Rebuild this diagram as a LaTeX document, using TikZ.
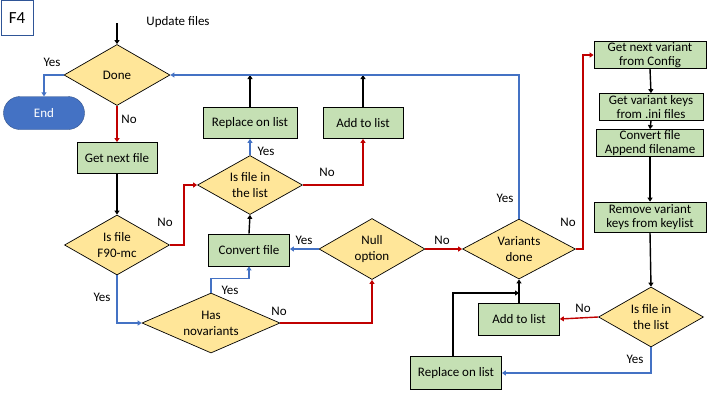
\documentclass[tikz,border=0pt]{standalone}
\usepackage{fontspec}
\setmainfont{Carlito}
\usepackage{xcolor}
\usetikzlibrary{shapes.geometric, shapes.misc, arrows.meta}

\definecolor{decfill}{HTML}{FFE699}
\definecolor{boxfill}{HTML}{C5E0B4}
\definecolor{lineblue}{HTML}{4472C4}
\definecolor{linered}{HTML}{C00000}
\definecolor{framenavy}{HTML}{2F5597}

\begin{document}
\begin{tikzpicture}[x=1pt, y=-1pt,
        txt/.style={font=\fontsize{13}{16}\selectfont, align=center},
        decision/.style={txt, diamond, draw=black, line width=0.7pt, fill=decfill, inner sep=0pt, aspect=2},
        process/.style={txt, rectangle, draw=black, line width=0.7pt, fill=boxfill, inner sep=0pt},
        tightbox/.style={process, font=\fontsize{13}{13.5}\selectfont},
        flow/.style={line width=1.4pt, -{Triangle[width=5pt,length=4pt]}},
        yesline/.style={flow, lineblue},
        noline/.style={flow, linered},
        lbl/.style={txt, inner sep=0pt}]
        \useasboundingbox (0, 0) rectangle (720, 405);

        % frame label
        \node[draw=framenavy, line width=0.8pt, minimum width=32pt, minimum height=35pt,
              font=\fontsize{17}{20}\selectfont] (tag) at (17, 18) {F4};
        \node[lbl] (title) at (178, 22) {Update files};
        \coordinate (start) at (117, 23);

        % main loop over files
        \node[decision, minimum width=106pt, minimum height=61pt] (done) at (117, 75) {Done};
        \node[txt, rounded rectangle, fill=lineblue, draw=lineblue!70!black, text=white,
              minimum width=81pt, minimum height=33pt, inner sep=0pt] (end) at (44, 113) {End};
        \node[process, minimum width=80pt, minimum height=31pt] (getnext) at (117, 158) {Get next file};
        \node[decision, minimum width=105pt, minimum height=60pt] (isf90) at (117, 245) {Is file\\F90-mc};
        \node[decision, minimum width=138pt, minimum height=60pt] (hasnov) at (211, 323) {Has\\novariants};
        \node[process, minimum width=81pt, minimum height=32pt] (convfile) at (249, 250) {Convert file};
        \node[decision, minimum width=105pt, minimum height=59pt] (inlist) at (250, 185) {Is file in\\the list};
        \node[process, minimum width=94pt, minimum height=31pt] (replace) at (250, 123) {Replace on list};
        \node[process, minimum width=80pt, minimum height=31pt] (addlist) at (363, 123) {Add to list};
        \node[decision, minimum width=106pt, minimum height=61pt] (nullopt) at (372, 249) {Null\\option};
        \node[decision, minimum width=113pt, minimum height=60pt] (vardone) at (519, 249) {Variants\\done};

        % variant branch
        \node[tightbox, minimum width=112pt, minimum height=27pt] (getvar) at (650, 55) {Get next variant\\from Config};
        \node[tightbox, minimum width=104pt, minimum height=27pt] (getkeys) at (651, 107) {Get variant keys\\from .ini files};
        \node[tightbox, minimum width=107pt, minimum height=27pt] (convvar) at (650, 143) {Convert file\\Append filename};
        \node[tightbox, minimum width=112pt, minimum height=30pt] (remkeys) at (650, 217) {Remove variant\\keys from keylist};
        \node[decision, minimum width=105pt, minimum height=60pt] (inlistv) at (651, 317) {Is file in\\the list};
        \node[process, minimum width=81pt, minimum height=32pt] (addvar) at (519, 319) {Add to list};
        \node[process, minimum width=91pt, minimum height=33pt] (replvar) at (456, 373) {Replace on list};
        \coordinate (join) at (519, 293);

        % connectors
        \draw[flow] (start) -- (done.north);
        \draw[yesline] (done.west) -| (end.north);
        \draw[noline] (done.south) -- (getnext.north);
        \draw[flow] (getnext.south) -- (isf90.north);
        \draw[noline] (isf90.east) -- ++(14, 0) |- (inlist.west);
        \draw[yesline] (isf90.south) |- (hasnov.west);
        \draw[yesline] (hasnov.north) -- ++(0, -14) -| (convfile.south);
        \draw[noline] (hasnov.east) -| (nullopt.south);
        \draw[flow] (convfile.north) -- (inlist.south);
        \draw[yesline] (inlist.north) -- (replace.south);
        \draw[noline] (inlist.east) -| (addlist.south);
        \draw[flow] (replace.north) -- (replace.north |- done.east);
        \draw[flow] (addlist.north) -- (addlist.north |- done.east);
        \draw[yesline] (nullopt.west) -- (convfile.east |- nullopt.west);
        \draw[noline] (nullopt.east) -- (vardone.west);
        \draw[yesline] (vardone.north) |- (done.east);
        \draw[noline] (vardone.east) -- ++(7, 0) |- (getvar.west);
        \draw[flow] (getvar.south) -- (getkeys.north);
        \draw[flow] (getkeys.south) -- (convvar.north);
        \draw[flow] (convvar.south) -- (remkeys.north);
        \draw[flow] (remkeys.south) -- (inlistv.north);
        \draw[noline] (inlistv.west) -- (addvar.east);
        \draw[yesline] (inlistv.south) |- (replvar.east);
        \draw[flow] (addvar.north) -- (vardone.south);
        \draw[flow] ([xshift=-3pt]replvar.north) |- (join);

        % branch labels
        \node[lbl] (y1) at (52, 62) {Yes};
        \node[lbl] (n1) at (129, 119) {No};
        \node[lbl] (n2) at (165, 222) {No};
        \node[lbl] (y2) at (102, 297) {Yes};
        \node[lbl] (y3) at (230, 290) {Yes};
        \node[lbl] (n3) at (279, 311) {No};
        \node[lbl] (y4) at (266, 151) {Yes};
        \node[lbl] (n4) at (327, 172) {No};
        \node[lbl] (y5) at (304, 240) {Yes};
        \node[lbl] (n5) at (442, 240) {No};
        \node[lbl] (y6) at (505, 198) {Yes};
        \node[lbl] (n6) at (568, 222) {No};
        \node[lbl] (n7) at (583, 308) {No};
        \node[lbl] (y7) at (635, 359) {Yes};
    \end{tikzpicture}
\end{document}
